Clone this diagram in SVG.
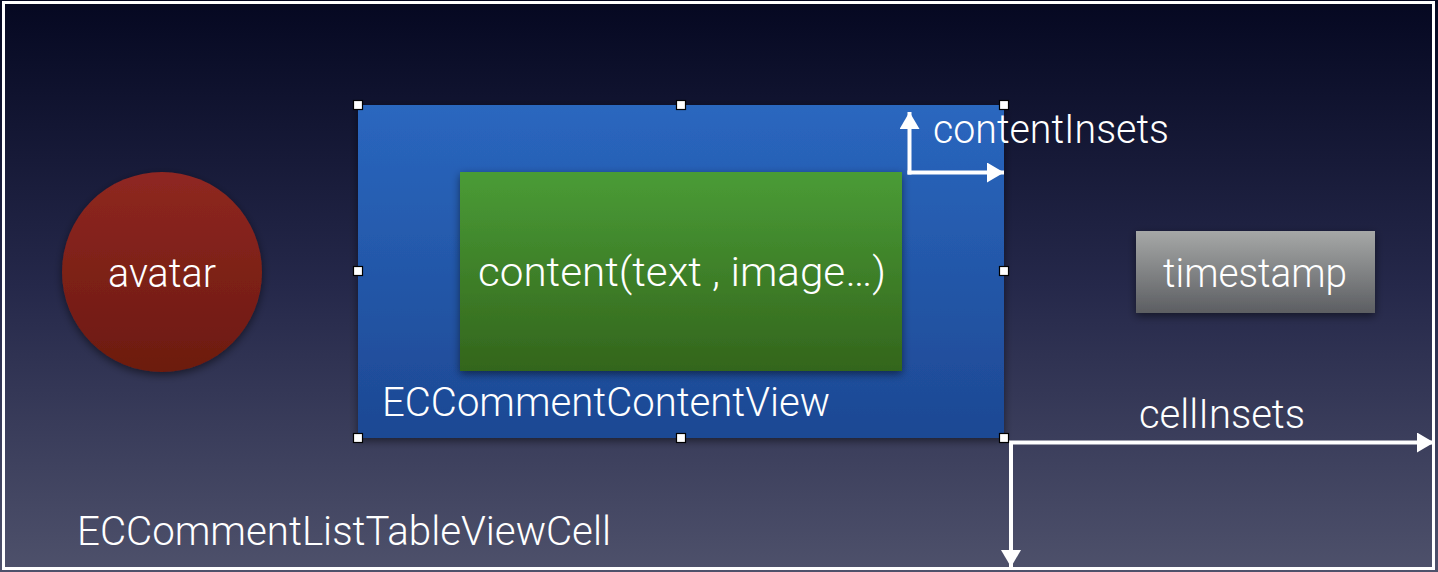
<svg xmlns="http://www.w3.org/2000/svg" width="1438" height="572" viewBox="0 0 1438 572">
<defs>
<linearGradient id="bg" x1="0" y1="0" x2="0" y2="1">
<stop offset="0" stop-color="#050821"/>
<stop offset="0.5" stop-color="#25284a"/>
<stop offset="1" stop-color="#4e516b"/>
</linearGradient>
<linearGradient id="gBlue" x1="0" y1="0" x2="0" y2="1">
<stop offset="0" stop-color="#2a67bf"/>
<stop offset="1" stop-color="#1d4893"/>
</linearGradient>
<linearGradient id="gGreen" x1="0" y1="0" x2="0" y2="1">
<stop offset="0" stop-color="#4a9c36"/>
<stop offset="1" stop-color="#33651c"/>
</linearGradient>
<linearGradient id="gRed" x1="0" y1="0" x2="0" y2="1">
<stop offset="0" stop-color="#8f2721"/>
<stop offset="1" stop-color="#6c1a0f"/>
</linearGradient>
<linearGradient id="gGray" x1="0" y1="0" x2="0" y2="1">
<stop offset="0" stop-color="#a6a8a7"/>
<stop offset="1" stop-color="#5c5e62"/>
</linearGradient>
<filter id="sh" x="-10%" y="-10%" width="120%" height="125%">
<feDropShadow dx="0" dy="3" stdDeviation="4" flood-color="#000" flood-opacity="0.5"/>
</filter>
<marker id="ah" viewBox="0 0 17 20" refX="17" refY="10" markerWidth="17" markerHeight="20" markerUnits="userSpaceOnUse" orient="auto">
<path d="M0,0 L17,10 L0,20 Z" fill="#fff"/>
</marker>
</defs>
<style>
text{font-family:"Helvetica Neue",Roboto,"Liberation Sans",sans-serif;font-weight:300;font-size:40px;fill:#fff}
.h{fill:#fff;stroke:#000;stroke-width:1.2}
.c{stroke:#fff;stroke-width:4;fill:none}
</style>
<rect x="0" y="0" width="1438" height="572" fill="url(#bg)"/>
<rect id="frame" x="3.5" y="2.5" width="1430" height="566" fill="none" stroke="#fff" stroke-width="3"/>

<g id="cell">
<text x="77" y="545" textLength="534" lengthAdjust="spacingAndGlyphs">ECCommentListTableViewCell</text>
</g>

<g id="avatar">
<circle cx="162" cy="272" r="100" fill="url(#gRed)" filter="url(#sh)"/>
<text x="162" y="287" text-anchor="middle" textLength="108" lengthAdjust="spacingAndGlyphs">avatar</text>
</g>

<g id="contentView">
<rect x="358" y="105" width="646" height="333" fill="url(#gBlue)" filter="url(#sh)"/>
<text x="382" y="416" textLength="448" lengthAdjust="spacingAndGlyphs">ECCommentContentView</text>
</g>

<g id="content">
<rect x="460" y="172" width="442" height="199" fill="url(#gGreen)" filter="url(#sh)"/>
<text x="478" y="286" textLength="408" lengthAdjust="spacingAndGlyphs">content(text , image…)</text>
</g>

<g id="timestamp">
<rect x="1136" y="231" width="239" height="82" fill="url(#gGray)" filter="url(#sh)"/>
<text x="1163" y="287" textLength="184" lengthAdjust="spacingAndGlyphs">timestamp</text>
</g>

<g id="connectors">
<path class="c" d="M909.5,174.5 V112" marker-end="url(#ah)"/>
<path class="c" d="M907.5,172.5 H1004" marker-end="url(#ah)"/>
<path class="c" d="M1009,442.5 H1434" marker-end="url(#ah)"/>
<path class="c" d="M1011,443 V567" marker-end="url(#ah)"/>
</g>

<g id="labels">
<text x="933" y="143" textLength="236" lengthAdjust="spacingAndGlyphs">contentInsets</text>
<text x="1139" y="428" textLength="166" lengthAdjust="spacingAndGlyphs">cellInsets</text>
</g>

<g id="handles">
<rect class="h" x="353.5" y="100.5" width="9" height="9"/>
<rect class="h" x="676.5" y="100.5" width="9" height="9"/>
<rect class="h" x="999.5" y="100.5" width="9" height="9"/>
<rect class="h" x="353.5" y="266.5" width="9" height="9"/>
<rect class="h" x="999.5" y="266.5" width="9" height="9"/>
<rect class="h" x="353.5" y="433.5" width="9" height="9"/>
<rect class="h" x="676.5" y="433.5" width="9" height="9"/>
<rect class="h" x="999.5" y="433.5" width="9" height="9"/>
</g>
</svg>
